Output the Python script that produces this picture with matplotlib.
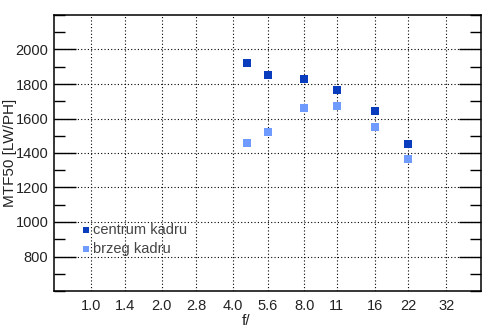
import numpy as np
import matplotlib
matplotlib.use("Agg")
import matplotlib.pyplot as plt
from matplotlib.ticker import FixedLocator, MultipleLocator

# f-number tick labels on the x axis (one stop apart)
f_ticks = [1.0, 1.4, 2.0, 2.8, 4.0, 5.6, 8.0, 11, 16, 22, 32]
f_labels = ["1.0", "1.4", "2.0", "2.8", "4.0", "5.6", "8.0", "11", "16", "22", "32"]

# measured apertures
apertures = [4.6, 5.6, 8.0, 11, 16, 22]
centrum = [1921, 1851, 1828, 1765, 1643, 1453]
brzeg = [1458, 1522, 1661, 1672, 1551, 1366]

dark = "#0a3cbe"
light = "#6f9bff"


def stops(f):
    # position in stops relative to f/1.0
    return 2 * np.log2(np.asarray(f, dtype=float))


plt.rcParams['font.family'] = ['Liberation Sans', 'DejaVu Sans']

fig = plt.figure(figsize=(4.94, 3.31), dpi=100)
ax = fig.add_axes([54 / 494, 1 - 291 / 331, 427 / 494, 276 / 331])

ax.scatter(stops(apertures), centrum, marker='s', s=28, color=dark, linewidths=0,
           zorder=3, label="centrum kadru")
ax.scatter(stops(apertures), brzeg, marker='s', s=28, color=light, linewidths=0,
           zorder=3, label="brzeg kadru")

ax.set_xlim(-1.03, 10.97)
ax.set_ylim(600, 2200)

ax.xaxis.set_major_locator(FixedLocator(stops(f_ticks)))
ax.set_xticklabels(f_labels)
ax.yaxis.set_major_locator(FixedLocator([800, 1000, 1200, 1400, 1600, 1800, 2000]))
ax.yaxis.set_minor_locator(MultipleLocator(100))

ax.grid(True, which='major', color='black', linestyle=(0, (1, 2)), linewidth=0.8)
ax.tick_params(axis='x', which='both', length=0, pad=6, labelsize=10.5)
ax.tick_params(axis='y', which='major', direction='in', length=16, width=1.0,
               right=True, labelsize=10.5, pad=4)
ax.tick_params(axis='y', which='minor', direction='in', length=8, width=1.0, right=True)
for lbl in ax.get_yticklabels() + ax.get_xticklabels():
    lbl.set_color('#222222')

for sp in ax.spines.values():
    sp.set_linewidth(1.1)

ax.set_ylabel("MTF50 [LW/PH]", fontsize=11, color='#222222', va='center')
ax.yaxis.set_label_coords(-44 / 427, 0.5)
ax.set_xlabel("f/", fontsize=11, color='#222222', va='center')
ax.xaxis.set_label_coords(192 / 427, -30 / 276)

leg = ax.legend(loc='lower left', bbox_to_anchor=(0.055, 0.105), frameon=False,
                handlelength=0.4, handletextpad=0.25, labelspacing=0.35,
                markerscale=0.75, fontsize=10.5, borderaxespad=0)
for t in leg.get_texts():
    t.set_color('#444444')

fig.savefig("out.png", dpi=100)
